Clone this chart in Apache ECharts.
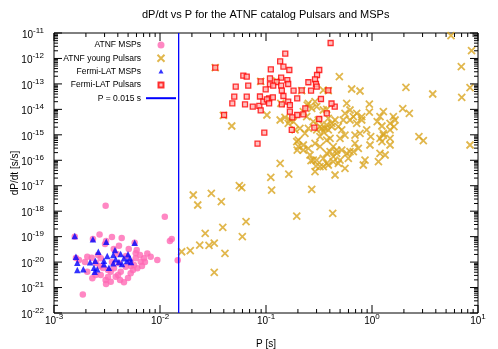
<!DOCTYPE html>
<html><head><meta charset="utf-8">
<script src="https://cdn.jsdelivr.net/npm/echarts@6/dist/echarts.min.js"></script>
<style>html,body{margin:0;padding:0;background:#fff}#c{width:498px;height:349px}</style>
</head><body><div id="c"></div>
<script>
// ---- data (P [s], dP/dt [s/s]) ----
const atnfMsps = [[3.07e-3,1.64e-18],[1.11e-2,6.05e-19],[2.69e-3,1.21e-19],[3.52e-3,9.66e-20],[4.35e-3,8.83e-20],[1.29e-2,8.05e-20],[1.24e-2,6.73e-20],[4.1e-3,4.4e-20],[3.03e-3,5.13e-20],[6.03e-3,2.98e-20],[7.59e-3,2.17e-20],[8.17e-3,1.63e-20],[9.43e-3,1.2e-20],[1.47e-2,1.19e-20],[1.87e-3,5.32e-22],[1.57e-3,9.93e-20],[3.1e-3,6.73e-20],[2.33e-3,8.05e-20],[5.77e-3,5.77e-20],[2.06e-3,1.63e-20],[2.27e-3,1.49e-20],[2.76e-3,1.41e-20],[5.9e-3,1.41e-20],[5.69e-3,7.67e-21],[6.11e-3,5.69e-21],[2.06e-3,4.19e-21],[2.76e-3,3.1e-21],[3.07e-3,1.97e-21],[3.43e-3,1.69e-21],[3.82e-3,2.66e-21],[4.57e-3,1.6e-21],[5.29e-3,3.62e-21],[3.68e-3,5.69e-21],[4.26e-3,4.19e-21],[4.75e-3,6.58e-21],[6.58e-3,1.03e-20],[7.06e-3,1.41e-20],[2.3e-3,2.3e-21],[2.47e-3,3.1e-21],[3.43e-3,4.19e-21],[4.1e-3,8.95e-21],[5.29e-3,1.03e-20],[5.9e-3,2.21e-20],[5.07e-3,3.26e-20],[3.66e-3,3.26e-20],[1.61e-3,1.45e-20],[1.72e-3,1.2e-20],[2.6e-3,1.9e-20],[6.48e-3,1.9e-20],[3.23e-3,4.88e-21],[4.02e-3,3.1e-21],[4.99e-3,2.37e-21],[2.9e-3,5.85e-21],[2.49e-3,9.12e-21],[1.96e-3,1.0e-20],[6.76e-3,6.95e-21],[5.33e-3,6.95e-21],[3.1e-3,1.37e-21],[4.2e-3,1.97e-21],[4.78e-3,1.73e-20],[3.93e-3,2.07e-20],[5.56e-3,4.88e-21],[7.21e-3,1e-20],[2.72e-3,6.95e-21],[3.52e-3,1e-20],[3.23e-3,2.59e-21]];

const atnfYoung = [[5.56,7.83e-12],[8.69,2.02e-12],[6.96,4.74e-13],[8.41,7.1e-14],[7.02,2.98e-14],[3.74,4.01e-14],[2.09,7.36e-14],[0.492,1.92e-13],[0.643,6.31e-14],[0.771,5.26e-14],[8.41,3.98e-16],[2.77,8.43e-16],[3.05,5.86e-16],[1.95,1.06e-14],[2.25,7.0e-15],[0.0332,4.33e-13],[0.0396,5.84e-15],[0.0475,2.22e-15],[0.0891,1.26e-13],[0.126,1.3e-13],[0.217,5.41e-14],[0.387,5.41e-14],[0.347,5.75e-14],[0.102,6.0e-15],[0.138,1.73e-14],[0.577,1.73e-14],[0.944,1.62e-14],[0.245,1.48e-14],
[0.556,7.0e-15],[0.62,9.44e-15],[0.667,5.14e-15],[0.717,7.0e-15],[0.8,5.14e-15],[0.944,7.87e-15],[1.28,8.09e-15],[1.19,5.14e-15],[1.59,5.14e-15],[1.12,3.27e-15],[1.24,2.22e-15],[1.48,2.83e-15],[1.65,3.82e-15],[1.61,2.08e-15],[1.48,1.55e-15],[1.28,1.15e-15],[0.29,2.0e-14],[0.347,9.44e-15],[0.374,1.0e-14],[0.536,3.82e-15],[0.62,3.82e-15],[0.717,2.83e-15],[0.8,3.82e-15],[0.481,2.08e-15],[0.518,1.55e-15],[0.323,2.08e-15],[0.36,1.8e-15],[0.387,1.55e-15],[0.347,1.32e-15],[0.417,2.08e-15],[0.374,2.43e-15],[0.233,1.15e-15],[0.251,1.8e-15],[0.691,9.82e-16],[0.771,1.15e-15],[0.891,1.55e-15],[0.972,8.43e-16],[1.19,7.3e-16],[1.28,9.82e-16],[1.48,7.3e-16],[0.323,8.43e-16],[0.402,7.3e-16],[0.499,7.3e-16],[0.556,9.82e-16],[0.225,3.98e-16],[0.251,2.95e-16],[0.29,4.64e-16],[0.691,4.64e-16],[0.743,2.95e-16],[0.667,2.17e-16],[0.957,3.98e-16],[1.24,5.36e-16],[1.48,3.98e-16],[0.431,3.41e-16],[0.402,2.17e-16],[0.464,1.88e-16],[0.577,1.88e-16],[0.518,2.53e-16],[0.62,2.17e-16],[1.19,1.88e-16],[1.33,1.61e-16],[1.15,8.77e-17],[0.279,1.02e-16],[0.347,1.19e-16],[0.374,7.59e-17],[0.431,8.77e-17],[0.499,1.02e-16],[0.598,1.19e-16],[0.859,1.02e-16],[0.828,6.52e-17],[0.29,3.55e-17],[0.347,5.58e-17],[0.387,6.52e-17],[0.481,7.59e-17],[0.556,4.83e-17],[0.448,2.64e-17],
[0.136,3.82e-15],[0.151,4.88e-15],[0.168,3.82e-15],[0.181,3.27e-15],[0.162,2.83e-15],[0.225,8.09e-15],[0.251,1.73e-14],[0.27,1.1e-14],[0.301,1.27e-14],[0.242,5.14e-15],[0.279,3.27e-15],[0.311,3.82e-15],[0.335,1.8e-15],[0.301,1.55e-15],[0.387,4.46e-15],[0.417,2.83e-15],[0.448,3.82e-15],[0.188,1.55e-15],[0.209,1.8e-15],[0.202,6.25e-16],[0.202,3.41e-16],[0.225,2.53e-16],[0.26,1.61e-16],[0.323,3.41e-16],[0.374,6.25e-16],[0.464,2.53e-16],[0.374,1.88e-16],[0.431,1.38e-16],[0.301,1.02e-16],[0.323,5.58e-17],[0.136,7.59e-17],
[0.195,5.36e-16],[0.197,2.53e-16],[0.266,9.6e-17],[0.296,5.94e-17],[0.111,2.14e-17],[0.164,2.88e-17],[0.113,6.78e-18],[0.27,7.23e-18],[0.056,1.0e-17],[0.059,8.35e-18],[0.0305,5.04e-18],[0.0206,4.32e-18],[0.0227,1.75e-18],[0.0379,2.36e-18],[0.0648,3.85e-19],[0.195,6.46e-19],[0.0391,2.32e-19],[0.0267,1.35e-19],[0.0598,9.93e-20],[0.0237,4.68e-20],[0.029,4.56e-20],[0.0325,5.61e-20],[0.0193,2.8e-20],[0.016,2.55e-20],[0.041,2.21e-20],[0.0325,3.96e-21],[0.426,8.24e-19]];

const fermiMsps = [[1.57e-3,1.06e-19],[2.33e-3,7.83e-20],[3.11e-3,6.31e-20],[5.77e-3,5.77e-20],[2.62e-3,2.55e-20],[3.76e-3,2.98e-20],[1.61e-3,1.63e-20],[3.18e-3,1.73e-20],[3.62e-3,1.9e-20],[4.26e-3,2.07e-20],[4.99e-3,2.03e-20],[1.66e-3,9.4e-21],[2.19e-3,9.8e-21],[2.45e-3,1.13e-20],[2.96e-3,1.13e-20],[3.82e-3,1.29e-20],[4.57e-3,1.41e-20],[5.21e-3,1.41e-20],[1.66e-3,4.88e-21],[1.89e-3,5.2e-21],[2.38e-3,6.0e-21],[2.56e-3,5.2e-21],[2.42e-3,4.19e-21],[2.96e-3,8.17e-21],[3.3e-3,6.0e-21],[3.62e-3,8.95e-21],[4.1e-3,1.0e-20],[4.38e-3,8.4e-21],[4.88e-3,1.1e-20],[5.33e-3,1.0e-20]];

const fermiPsrs = [[0.407,4.05e-12],[0.152,1.54e-12],[0.136,7.73e-13],[0.146,4.74e-13],[0.166,3.52e-13],[0.111,3.75e-13],[0.318,3.52e-13],[0.0332,4.33e-13],[0.0611,2.1e-13],[0.0658,1.92e-13],[0.109,1.66e-13],[0.139,1.75e-13],[0.303,2.24e-13],[0.29,1.52e-13],[0.159,1.42e-13],[0.068,8.5e-14],[0.0518,7.76e-14],[0.0891,1.26e-13],[0.126,1.19e-13],[0.109,9.64e-14],[0.0993,6.14e-14],[0.117,8.5e-14],[0.139,8.5e-14],[0.162,9.91e-14],[0.251,1.16e-13],[0.296,9.91e-14],[0.301,7.76e-14],[0.141,5.41e-14],[0.182,5.41e-14],[0.217,5.61e-14],[0.266,5.41e-14],[0.387,5.61e-14],[0.0502,3.14e-14],[0.0658,3.14e-14],[0.0877,3.2e-14],[0.107,2.72e-14],[0.116,2.98e-14],[0.146,3.35e-14],[0.197,2.72e-14],[0.33,2.55e-14],[0.0481,1.73e-14],[0.0634,1.58e-14],[0.075,1.29e-14],[0.0865,1.36e-14],[0.0944,2.0e-14],[0.102,2.48e-14],[0.107,1.73e-14],[0.141,1.58e-14],[0.162,2.0e-14],[0.168,1.48e-14],[0.0891,9.18e-15],[0.168,8.09e-15],[0.197,6.0e-15],[0.225,6.4e-15],[0.235,1.1e-14],[0.374,7.0e-15],[0.0402,6.0e-15],[0.445,1.27e-14],[0.415,1.7e-14],[0.318,4.18e-15],[0.286,1.9e-15],[0.175,1.55e-15],[0.0964,1.21e-15],[0.0832,4.48e-16],[0.177,4.88e-15]];

const cutLine = [[0.015,1e-22],[0.015,1e-11]];

const seriesNames = ['ATNF MSPs','ATNF young Pulsars','Fermi-LAT MSPs','Fermi-LAT Pulsars','P = 0.015 s'];
const xTickValues = [1e-3,1e-2,1e-1,1,10];
const yTickValues = [1e-22,1e-21,1e-20,1e-19,1e-18,1e-17,1e-16,1e-15,1e-14,1e-13,1e-12,1e-11];

function minorOf(majors){ const out=[]; for(let i=0;i<majors.length-1;i++){ for(let k=2;k<=9;k++) out.push(k*majors[i]); } return out; }
const xMinor = minorOf(xTickValues);
const yMinor = minorOf(yTickValues);

const FONT = 'Liberation Sans, Arial, Helvetica, sans-serif';
const X_SYMBOL = 'path://M0,0L10,10M10,0L0,10';
const TRI_ICON = 'path://M-2,-2M12,12M5,0L10,9L0,9Z';
const SQ_ICON = 'path://M-2,-2M12,12M0,0L10,0L10,10L0,10Z';
function expLabel(v){ const e = Math.round(Math.log10(v)); return '{b|10}{s|' + e + '}'; }
const rich = {
  b:{fontSize:10, fontFamily:FONT, color:'#000', lineHeight:11, padding:[4,0,0,0]},
  s:{fontSize:8, fontFamily:FONT, color:'#000', lineHeight:10, padding:[0,0,5,0]}
};

function renderTicks(params, api){
  const xa = xTickValues[0], xb = xTickValues[xTickValues.length-1];
  const ya = yTickValues[0], yb = yTickValues[yTickValues.length-1];
  const ch = [];
  const seg = (a,b,c,d)=>ch.push({type:'line', shape:{x1:a,y1:b,x2:c,y2:d}, style:{stroke:'#000', lineWidth:1}});
  const xt = (v,len)=>{ const p=api.coord([v,ya]), q=api.coord([v,yb]); seg(p[0],p[1],p[0],p[1]-len); seg(q[0],q[1],q[0],q[1]+len); };
  const yt = (v,len)=>{ const p=api.coord([xa,v]), q=api.coord([xb,v]); seg(p[0],p[1],p[0]+len,p[1]); seg(q[0],q[1],q[0]-len,q[1]); };
  xTickValues.forEach(v=>xt(v,8)); xMinor.forEach(v=>xt(v,4));
  yTickValues.forEach(v=>yt(v,8)); yMinor.forEach(v=>yt(v,4));
  return {type:'group', children:ch};
}

const chart = echarts.init(document.getElementById('c'), null, {renderer:'canvas'});
chart.setOption({
  animation:false,
  backgroundColor:'#fff',
  title:{text:'dP/dt vs P for the ATNF catalog Pulsars and MSPs', left:142, top:9, padding:0,
    textStyle:{fontSize:11, fontWeight:'normal', fontFamily:FONT, color:'#000'}},
  grid:{left:54, right:20, top:33, bottom:36, containLabel:false, outerBoundsMode:'none',
    show:true, borderColor:'#000', borderWidth:1, backgroundColor:'transparent'},
  legend:{data:[
      {name:seriesNames[0], icon:'circle'},
      {name:seriesNames[1], icon:X_SYMBOL},
      {name:seriesNames[2], icon:TRI_ICON},
      {name:seriesNames[3], icon:SQ_ICON},
      {name:seriesNames[4], itemStyle:{opacity:0, color:'rgba(0,0,0,0)', borderWidth:0}}],
    orient:'vertical', align:'right', right:321, top:40, itemWidth:30, itemHeight:7, itemGap:3.3,
    symbolKeepAspect:true, padding:0, selectedMode:false,
    textStyle:{fontSize:8.5, fontFamily:FONT, color:'#000', lineHeight:10}},
  xAxis:{type:'log', logBase:10, min:1e-3, max:10,
    axisLine:{show:false}, splitLine:{show:false}, axisTick:{show:false},
    axisLabel:{show:true, customValues:xTickValues, formatter:expLabel, rich:rich, margin:1},
    name:'P [s]', nameLocation:'middle', nameGap:26, nameTextStyle:{fontSize:10, fontFamily:FONT, color:'#000'}},
  yAxis:{type:'log', logBase:10, min:1e-22, max:1e-11,
    axisLine:{show:false}, splitLine:{show:false}, axisTick:{show:false},
    axisLabel:{show:true, customValues:yTickValues, formatter:expLabel, rich:rich, margin:10},
    name:'dP/dt [s/s]', nameLocation:'middle', nameGap:34, nameMoveOverlap:false,
    nameTextStyle:{fontSize:10, fontFamily:FONT, color:'#000'}},
  series:[
    {name:seriesNames[0], type:'scatter', data:atnfMsps, symbol:'circle', symbolSize:6.5, symbolKeepAspect:true,
      itemStyle:{color:'#ff69b4'}, emphasis:{disabled:true}},
    {name:seriesNames[1], type:'scatter', data:atnfYoung, symbol:X_SYMBOL, symbolSize:7, symbolKeepAspect:true,
      itemStyle:{color:'rgba(0,0,0,0)', borderColor:'#daa520', borderWidth:1.8}, emphasis:{disabled:true}},
    {name:seriesNames[2], type:'scatter', data:fermiMsps, symbol:'triangle', symbolSize:6.5, symbolKeepAspect:true,
      itemStyle:{color:'#0000ff'}, emphasis:{disabled:true}},
    {name:seriesNames[3], type:'scatter', data:fermiPsrs, symbol:'rect', symbolSize:5, symbolKeepAspect:true,
      itemStyle:{color:'#ffb0b0', borderColor:'#ff0000', borderWidth:1.3}, emphasis:{disabled:true}},
    {name:seriesNames[4], type:'line', data:cutLine, symbol:'none', showSymbol:false,
      lineStyle:{color:'#0000ff', width:1.3}, itemStyle:{color:'#0000ff'}, emphasis:{disabled:true}},
    {name:'ticks', type:'custom', data:[[1e-2,1e-16]], renderItem:renderTicks, silent:true, clip:false, z:10}
  ]
});
</script></body></html>
